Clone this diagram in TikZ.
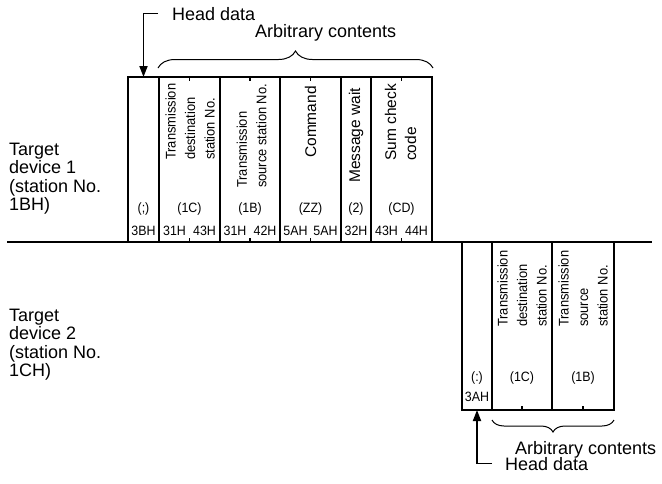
\documentclass[tikz,border=0pt]{standalone}
\usepackage{fontspec}
\setmainfont{Liberation Sans}
\newfontfamily\narrowfont{Liberation Sans}[FakeStretch=0.92]
\usetikzlibrary{arrows.meta, decorations.pathreplacing}

\tikzset{
  big/.style={font=\fontsize{18}{18.3}\selectfont, inner sep=0pt},
  small/.style={font=\narrowfont\fontsize{13.5}{15}\selectfont, inner sep=0pt, anchor=base},
  vtext/.style={font=\narrowfont\fontsize{14}{19.5}\selectfont, inner sep=0pt, rotate=90, anchor=west, align=left},
  vwide/.style={font=\fontsize{15.5}{20}\selectfont, inner sep=0pt, rotate=90, anchor=west, align=left},
  framebox/.style={draw, line width=2.3pt, inner sep=0pt, outer sep=0pt, anchor=north west},
  tick/.style={line width=1.8pt},
  arr/.style={line width=1.8pt, -{Triangle[length=11pt,width=8pt]}},
  brc/.style={line width=1pt, decorate, decoration={brace, amplitude=#1}},
}

\begin{document}
\begin{tikzpicture}[x=1pt, y=-1pt]
  \useasboundingbox (0,0) rectangle (662,483);
  % message from target device 1
  \node[framebox, minimum width=31pt, minimum height=165pt] (c0) at (128,77) {};
  \node[framebox, minimum width=61pt, minimum height=165pt] (c1) at (159,77) {};
  \node[framebox, minimum width=60pt, minimum height=165pt] (c2) at (220,77) {};
  \node[framebox, minimum width=61pt, minimum height=165pt] (c3) at (280,77) {};
  \node[framebox, minimum width=30pt, minimum height=165pt] (c4) at (341,77) {};
  \node[framebox, minimum width=61pt, minimum height=165pt] (c5) at (371,77) {};
  \draw[tick] (c1.north) -- ++(0,4);
  \draw[tick] (c2.north) -- ++(0,4);
  \draw[tick] (c3.north) -- ++(0,4);
  \draw[tick] (c5.north) -- ++(0,4);
  \draw[tick] (c1.south) -- ++(0,-4);
  \draw[tick] (c2.south) -- ++(0,-4);
  \draw[tick] (c3.south) -- ++(0,-4);
  \draw[tick] (c5.south) -- ++(0,-4);
  \draw[line width=2.4pt] (7,242) -- (652,242);

  \node[vtext] (t1) at (190,160) {Transmission\\destination\\station No.};
  \node[vtext] (t2) at (251.5,188) {Transmission\\source station No.};
  \node[vwide] (t3) at (310.5,158) {Command};
  \node[vwide] (t4) at (356,183) {Message wait};
  \node[vwide] (t5) at (400.5,161) {Sum check\\code};

  \node[small] (l0) at (143.5,212) {(;)};
  \node[small] (l1) at (189.5,212) {(1C)};
  \node[small] (l2) at (250,212) {(1B)};
  \node[small] (l3) at (310.5,212) {(ZZ)};
  \node[small] (l4) at (356,212) {(2)};
  \node[small] (l5) at (401.5,212) {(CD)};
  \node[small] (h0) at (143.5,235) {3BH};
  \node[small] (h1) at (174.5,235) {31H};
  \node[small] (h2) at (204.5,235) {43H};
  \node[small] (h3) at (235,235) {31H};
  \node[small] (h4) at (265,235) {42H};
  \node[small] (h5) at (295.5,235) {5AH};
  \node[small] (h6) at (325.5,235) {5AH};
  \node[small] (h7) at (356,235) {32H};
  \node[small] (h8) at (386.5,235) {43H};
  \node[small] (h9) at (416.5,235) {44H};

  % response from target device 2
  \node[framebox, minimum width=30pt, minimum height=168pt] (d0) at (462,242) {};
  \node[framebox, minimum width=60pt, minimum height=168pt] (d1) at (492,242) {};
  \node[framebox, minimum width=62pt, minimum height=168pt] (d2) at (552,242) {};
  \draw[tick] (d1.south) -- ++(0,-4);
  \draw[tick] (d2.south) -- ++(0,-4);

  \node[vtext] (u1) at (522,327) {Transmission\\destination\\station No.};
  \node[vtext] (u2) at (583,327) {Transmission\\source\\station No.};
  \node[small] (m0) at (477,381) {(:)};
  \node[small] (m1) at (522,381) {(1C)};
  \node[small] (m2) at (583,381) {(1B)};
  \node[small] (g0) at (477,401.5) {3AH};

  % labels
  \node[big, anchor=north west, align=left] (dev1) at (9,143) {Target\\device 1\\(station No.\\1BH)};
  \node[big, anchor=north west, align=left] (dev2) at (9,309) {Target\\device 2\\(station No.\\1CH)};
  \node[big, anchor=base west] (hdA) at (172,20) {Head data};
  \node[big, anchor=base west] (acA) at (255,37.5) {Arbitrary contents};
  \node[big, anchor=base west] (acB) at (515,454) {Arbitrary contents};
  \node[big, anchor=base west] (hdB) at (505,470) {Head data};

  \draw[brc=17pt] (158,68) -- (433,68);
  \draw[brc=12pt] (614,420) -- (492,420);
  \draw[arr] ([xshift=-14pt]hdA.west) -| (c0.north);
  \draw[arr] ([xshift=-13pt]hdB.west) -| (d0.south);
\end{tikzpicture}
\end{document}
